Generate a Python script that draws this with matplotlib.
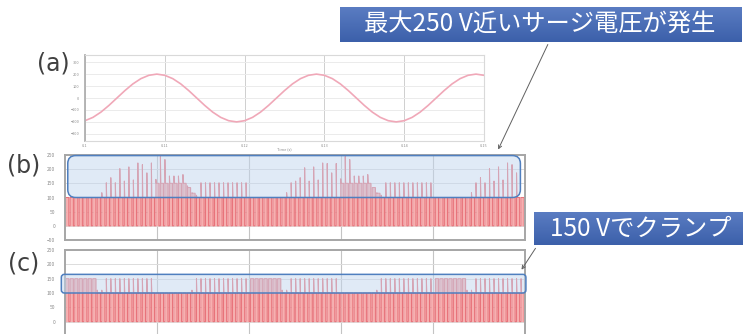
import numpy as np
import matplotlib.pyplot as plt
from matplotlib.patches import FancyBboxPatch, FancyArrowPatch

plt.rcParams['font.family'] = ['Noto Sans CJK JP', 'DejaVu Sans']

# (a) AC input voltage, one reading per ms
t_ac = np.arange(0, 51)
v_ac = [-190, -162, -118, -62, 0, 62, 118, 162, 190, 200,
        190, 162, 118, 62, 0, -62, -118, -162, -190, -200,
        -190, -162, -118, -62, 0, 62, 118, 162, 190, 200,
        190, 162, 118, 62, 0, -62, -118, -162, -190, -200,
        -190, -162, -118, -62, 0, 62, 118, 162, 190, 200, 190]

# (b) / (c) switching pulses: peak of each pulse and its flat-top level [V]
pulse_period = 0.49   # ms
pulse_start = 0.08    # ms
pulse_on = 0.34       # ms

surge_b = [100, 100, 100, 100, 100, 100, 100, 100,
           117, 152, 170, 152, 202, 158, 208, 162, 222, 216, 187, 222,
           164, 245, 234, 176, 176, 176, 181, 141, 117, 108,
           152, 152, 152, 152, 152, 152, 152, 152, 152, 152, 152,
           100, 100, 100, 100, 100, 100, 100, 100,
           117, 152, 158, 170, 205, 158, 208, 162, 222, 220, 187, 220,
           166, 245, 234, 176, 176, 176, 181, 135, 117, 108,
           152, 152, 152, 152, 152, 152, 152, 152, 152, 152, 152,
           100, 100, 100, 100, 100, 100, 100, 100,
           117, 152, 170, 152, 202, 158, 208, 162, 222, 216, 187, 100]
level_b = [100, 100, 100, 100, 100, 100, 100, 100, 100, 100,
           100, 100, 100, 100, 100, 100, 100, 100, 100, 100,
           150, 150, 150, 150, 150, 150, 150, 135, 115, 100,
           100, 100, 100, 100, 100, 100, 100, 100, 100, 100,
           100, 100, 100, 100, 100, 100, 100, 100, 100, 100,
           100, 100, 100, 100, 100, 100, 100, 100, 100, 100,
           100, 150, 150, 150, 150, 150, 150, 150, 135, 115,
           100, 100, 100, 100, 100, 100, 100, 100, 100, 100,
           100, 100, 100, 100, 100, 100, 100, 100, 100, 100,
           100, 100, 100, 100, 100, 100, 100, 100, 100, 100,
           100, 100]

surge_c = [100, 100, 100, 100, 100, 100, 100, 110, 110,
           150, 150, 150, 150, 150, 150, 150, 150, 150, 150, 150,
           100, 100, 100, 100, 100, 100, 100, 100, 110,
           150, 150, 150, 150, 150, 150, 150, 150, 150, 150, 150, 150,
           100, 100, 100, 100, 100, 100, 100, 110, 110,
           150, 150, 150, 150, 150, 150, 150, 150, 150, 150, 150,
           100, 100, 100, 100, 100, 100, 100, 100, 110,
           150, 150, 150, 150, 150, 150, 150, 150, 150, 150, 150, 150,
           100, 100, 100, 100, 100, 100, 100, 110, 110,
           150, 150, 150, 150, 150, 150, 150, 150, 150, 150, 150]
level_c = [150, 150, 150, 150, 150, 150, 150, 100, 100, 100,
           100, 100, 100, 100, 100, 100, 100, 100, 100, 100,
           100, 100, 100, 100, 100, 100, 100, 100, 100, 100,
           100, 100, 100, 100, 100, 100, 100, 100, 100, 100,
           100, 150, 150, 150, 150, 150, 150, 150, 100, 100,
           100, 100, 100, 100, 100, 100, 100, 100, 100, 100,
           100, 100, 100, 100, 100, 100, 100, 100, 100, 100,
           100, 100, 100, 100, 100, 100, 100, 100, 100, 100,
           100, 100, 150, 150, 150, 150, 150, 150, 150, 100,
           100, 100, 100, 100, 100, 100, 100, 100, 100, 100,
           100, 100]

v_ticks_b = [-50, 0, 50, 100, 150, 200, 250]
v_ticks_c = [0, 50, 100, 150, 200, 250]
ac_ticks = [-300, -200, -100, 0, 100, 200, 300]
t_ticks = [0, 10, 20, 30, 40, 50]

surge_box = (100, 248)
clamp_box = (100, 165)

title_surge = '最大250 V近いサージ電圧が発生'
title_clamp = '150 Vでクランプ'

W, H = 743, 334
fig = plt.figure(figsize=(W / 100, H / 100), dpi=100)


def px_axes(x0, y0, x1, y1):
    return fig.add_axes([x0 / W, 1 - y1 / H, (x1 - x0) / W, (y1 - y0) / H])


def pulse_wave(surge, level):
    xs, ys = [], []
    for i, (s, p) in enumerate(zip(surge, level)):
        t = pulse_start + i * pulse_period
        xs += [t, t, t + 0.04, t + pulse_on, t + pulse_on]
        ys += [0, max(s, p), p, p, 0]
    return np.array(xs), np.array(ys)


def style_axes(ax, ticks, fs, pad, spine_col, spine_w):
    ax.set_axisbelow(True)
    ax.set_yticks(ticks)
    ax.tick_params(length=0, labelsize=fs, labelcolor='#8c8c8c', pad=pad)
    for s in ax.spines.values():
        s.set_color(spine_col)
        s.set_linewidth(spine_w)


# (a)
ax_a = px_axes(85, 55, 484, 141)
ax_a.plot(t_ac, v_ac, color='#f0a8b8', lw=1.2)
ax_a.set_xlim(0, 50)
ax_a.set_ylim(-360, 360)
style_axes(ax_a, ac_ticks, 2.8, 4, '#d9d9d9', 0.8)
ax_a.spines['left'].set_color('#b0b0b0')
ax_a.spines['left'].set_linewidth(1.3)
ax_a.set_xticks(t_ticks)
ax_a.set_xticklabels(['0.1', '0.11', '0.12', '0.13', '0.14', '0.15'])
ax_a.tick_params(axis='x', pad=2)
ax_a.grid(axis='y', color='#ebebeb', lw=0.7)
ax_a.grid(axis='x', color='#cfcfcf', lw=0.7)
ax_a.set_xlabel('Time (s)', fontsize=2.8, color='#8c8c8c', labelpad=0)


def pulse_panel(ax, surge, level, ticks, box, radius):
    xs, ys = pulse_wave(surge, level)
    ax.fill_between(xs, ys, 0, color='#f6b0b0', lw=0)
    ax.plot(xs, ys, color='#e8737a', lw=0.75)
    ax.set_xlim(0, 50)
    ax.set_ylim(-50, 250)
    ax.set_xticks(t_ticks[1:-1])
    ax.set_xticklabels([])
    style_axes(ax, ticks, 3.6, 7, '#a6a6a6', 1.4)
    ax.grid(axis='y', color='#dcdcdc', lw=0.7)
    ax.grid(axis='x', color='#c4c4c4', lw=0.8)

    # highlight box around the over-voltage band, corners kept round in pixels
    p0 = ax.transData.transform((0, 0))
    p1 = ax.transData.transform((1, 1))
    xs_per_px = 1 / (p1[0] - p0[0])
    ys_per_px = 1 / (p1[1] - p0[1])
    x0, x1 = box[0], box[1]
    lo, hi = box[2], box[3]
    style = f'round,pad=0,rounding_size={radius * xs_per_px}'
    ax.add_patch(FancyBboxPatch(
        (x0, lo), x1 - x0, hi - lo, boxstyle=style,
        mutation_aspect=ys_per_px / xs_per_px,
        facecolor='#c3d6ef', alpha=0.5, edgecolor='none', clip_on=False, zorder=5))
    ax.add_patch(FancyBboxPatch(
        (x0, lo), x1 - x0, hi - lo, boxstyle=style,
        mutation_aspect=ys_per_px / xs_per_px,
        facecolor='none', edgecolor='#4f7fbf', lw=1.1, clip_on=False, zorder=6))


ax_b = px_axes(65, 155, 525, 240)
pulse_panel(ax_b, surge_b, level_b, v_ticks_b, (0.3, 49.5) + surge_box, 8)

ax_c = px_axes(65, 250, 525, 336)
pulse_panel(ax_c, surge_c, level_c, v_ticks_c, (-0.4, 50.1) + clamp_box, 3)

# panel letters
for lab, x, y in [('(a)', 53, 64), ('(b)', 24, 166), ('(c)', 24, 263)]:
    fig.text(x / W, 1 - y / H, lab, fontsize=17, color='#404040',
             ha='center', va='center', family='DejaVu Sans')


# callouts
blues = plt.matplotlib.colors.LinearSegmentedColormap.from_list(
    'blue', ['#5a7cc2', '#3c60aa'])


def callout(x0, y0, x1, y1, text, tx):
    cax = px_axes(x0, y0, x1, y1)
    grad = np.linspace(0, 1, 50).reshape(-1, 1)
    cax.imshow(grad, aspect='auto', cmap=blues, extent=(0, 1, 0, 1), origin='upper')
    cax.set_axis_off()
    fig.text(tx / W, 1 - (y0 + y1) / 2 / H, text, fontsize=17.5, color='white',
             ha='center', va='center')


callout(340, 7, 742, 42, title_surge, 540)
callout(534, 212, 745, 245, title_clamp, 641)

for (xa, ya), (xb, yb) in [((549, 42), (497, 152)), ((537, 246), (520, 272))]:
    fig.add_artist(FancyArrowPatch((xa / W, 1 - ya / H), (xb / W, 1 - yb / H),
                                   transform=fig.transFigure, arrowstyle='->',
                                   mutation_scale=6, lw=0.7, color='#606060'))

fig.savefig('out.png', dpi=100)
